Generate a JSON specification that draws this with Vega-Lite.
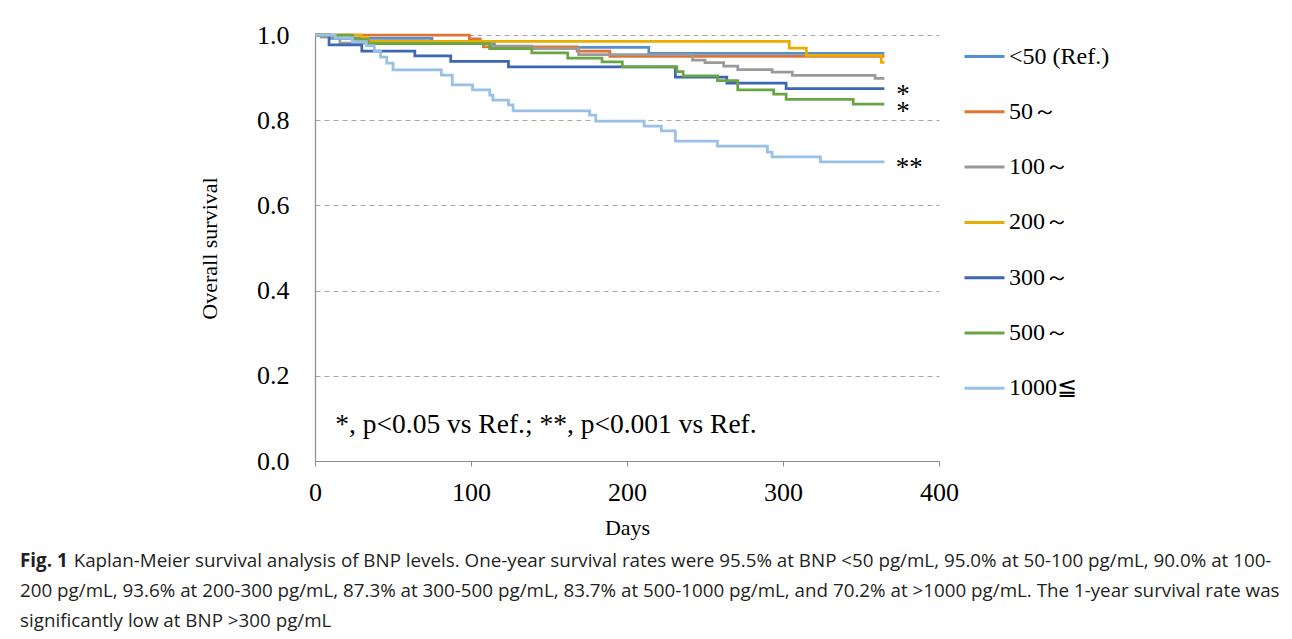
{
  "$schema": "https://vega.github.io/schema/vega-lite/v6.json",
  "width": 624,
  "height": 426,
  "autosize": {"type": "none"},
  "padding": {"left": 315, "top": 35, "right": 353, "bottom": 178},
  "background": "white",
  "config": {
    "view": {"stroke": null},
    "font": "Liberation Serif"
  },
  "title": {
    "text": "Fig. 1",
    "subtitle": [
      "\u200b\u00a0\u00a0\u00a0\u00a0\u00a0\u00a0\u00a0\u00a0\u00a0\u00a0\u00a0Kaplan-Meier survival analysis of BNP levels. One-year survival rates were 95.5% at BNP <50 pg/mL, 95.0% at 50-100 pg/mL, 90.0% at 100-",
      "200 pg/mL, 93.6% at 200-300 pg/mL, 87.3% at 300-500 pg/mL, 83.7% at 500-1000 pg/mL, and 70.2% at >1000 pg/mL. The 1-year survival rate was",
      "significantly low at BNP >300 pg/mL"
    ],
    "orient": "bottom",
    "anchor": "start",
    "frame": "group",
    "dx": -295,
    "offset": 14,
    "font": "Open Sans",
    "fontSize": 18.8,
    "fontWeight": "bold",
    "color": "#231f20",
    "subtitleFont": "Open Sans",
    "subtitleFontSize": 18.8,
    "subtitleFontWeight": "normal",
    "subtitleColor": "#231f20",
    "subtitleLineHeight": 30,
    "subtitlePadding": -18.8
  },
  "encoding": {
    "x": {
      "field": "day",
      "type": "quantitative",
      "scale": {"domain": [0, 400], "nice": false},
      "axis": {
        "values": [0, 100, 200, 300, 400],
        "title": "Days",
        "grid": false,
        "labelFlush": false,
        "labelFont": "Liberation Serif",
        "labelFontSize": 26,
        "labelColor": "#000000",
        "labelPadding": 13,
        "titleFont": "Liberation Serif",
        "titleFontSize": 22,
        "titleFontWeight": "normal",
        "titleColor": "#000000",
        "titlePadding": 12,
        "tickSize": 5,
        "tickColor": "#8c8c8c",
        "domainColor": "#8c8c8c",
        "domainWidth": 1.2
      }
    },
    "y": {
      "field": "surv",
      "type": "quantitative",
      "scale": {"domain": [0, 1], "nice": false},
      "axis": {
        "values": [0, 0.2, 0.4, 0.6, 0.8, 1.0],
        "format": ".1f",
        "title": "Overall survival",
        "grid": true,
        "gridDash": [5, 4],
        "gridColor": "#a6a6a6",
        "gridWidth": 1.2,
        "ticks": false,
        "labelFlush": false,
        "labelFont": "Liberation Serif",
        "labelFontSize": 26,
        "labelColor": "#000000",
        "labelPadding": 26,
        "titleFont": "Liberation Serif",
        "titleFontSize": 22,
        "titleFontWeight": "normal",
        "titleColor": "#000000",
        "titlePadding": 35,
        "domainColor": "#8c8c8c",
        "domainWidth": 1.2
      }
    }
  },
  "layer": [
    {
      "data": {
        "values": [
          {"group": "<50 (Ref.)", "day": 0, "surv": 1.0},
          {"group": "<50 (Ref.)", "day": 10, "surv": 0.992},
          {"group": "<50 (Ref.)", "day": 75, "surv": 0.98},
          {"group": "<50 (Ref.)", "day": 115, "surv": 0.971},
          {"group": "<50 (Ref.)", "day": 214, "surv": 0.957},
          {"group": "<50 (Ref.)", "day": 365, "surv": 0.957},

          {"group": "50～", "day": 0, "surv": 1.0},
          {"group": "50～", "day": 99, "surv": 0.991},
          {"group": "50～", "day": 106, "surv": 0.985},
          {"group": "50～", "day": 108, "surv": 0.972},
          {"group": "50～", "day": 168, "surv": 0.962},
          {"group": "50～", "day": 189, "surv": 0.95},
          {"group": "50～", "day": 365, "surv": 0.95},

          {"group": "100～", "day": 0, "surv": 1.0},
          {"group": "100～", "day": 4, "surv": 0.995},
          {"group": "100～", "day": 16, "surv": 0.981},
          {"group": "100～", "day": 113, "surv": 0.974},
          {"group": "100～", "day": 139, "surv": 0.968},
          {"group": "100～", "day": 169, "surv": 0.954},
          {"group": "100～", "day": 242, "surv": 0.941},
          {"group": "100～", "day": 250, "surv": 0.935},
          {"group": "100～", "day": 262, "surv": 0.927},
          {"group": "100～", "day": 271, "surv": 0.919},
          {"group": "100～", "day": 293, "surv": 0.913},
          {"group": "100～", "day": 306, "surv": 0.905},
          {"group": "100～", "day": 359, "surv": 0.898},
          {"group": "100～", "day": 365, "surv": 0.898},

          {"group": "200～", "day": 0, "surv": 1.0},
          {"group": "200～", "day": 30, "surv": 0.993},
          {"group": "200～", "day": 34, "surv": 0.985},
          {"group": "200～", "day": 304, "surv": 0.969},
          {"group": "200～", "day": 315, "surv": 0.952},
          {"group": "200～", "day": 363, "surv": 0.936},
          {"group": "200～", "day": 365, "surv": 0.936},

          {"group": "300～", "day": 0, "surv": 1.0},
          {"group": "300～", "day": 9, "surv": 0.977},
          {"group": "300～", "day": 30, "surv": 0.962},
          {"group": "300～", "day": 64, "surv": 0.951},
          {"group": "300～", "day": 87, "surv": 0.938},
          {"group": "300～", "day": 124, "surv": 0.925},
          {"group": "300～", "day": 231, "surv": 0.901},
          {"group": "300～", "day": 264, "surv": 0.887},
          {"group": "300～", "day": 302, "surv": 0.874},
          {"group": "300～", "day": 365, "surv": 0.874},

          {"group": "500～", "day": 0, "surv": 1.0},
          {"group": "500～", "day": 24, "surv": 0.99},
          {"group": "500～", "day": 34, "surv": 0.98},
          {"group": "500～", "day": 112, "surv": 0.968},
          {"group": "500～", "day": 139, "surv": 0.958},
          {"group": "500～", "day": 162, "surv": 0.946},
          {"group": "500～", "day": 184, "surv": 0.937},
          {"group": "500～", "day": 197, "surv": 0.925},
          {"group": "500～", "day": 232, "surv": 0.914},
          {"group": "500～", "day": 236, "surv": 0.904},
          {"group": "500～", "day": 258, "surv": 0.893},
          {"group": "500～", "day": 271, "surv": 0.871},
          {"group": "500～", "day": 294, "surv": 0.861},
          {"group": "500～", "day": 302, "surv": 0.849},
          {"group": "500～", "day": 345, "surv": 0.838},
          {"group": "500～", "day": 365, "surv": 0.838},

          {"group": "1000≦", "day": 0, "surv": 1.0},
          {"group": "1000≦", "day": 13, "surv": 0.993},
          {"group": "1000≦", "day": 24, "surv": 0.984},
          {"group": "1000≦", "day": 33, "surv": 0.975},
          {"group": "1000≦", "day": 38, "surv": 0.962},
          {"group": "1000≦", "day": 42, "surv": 0.948},
          {"group": "1000≦", "day": 46, "surv": 0.934},
          {"group": "1000≦", "day": 50, "surv": 0.918},
          {"group": "1000≦", "day": 81, "surv": 0.906},
          {"group": "1000≦", "day": 88, "surv": 0.883},
          {"group": "1000≦", "day": 101, "surv": 0.871},
          {"group": "1000≦", "day": 112, "surv": 0.859},
          {"group": "1000≦", "day": 114, "surv": 0.847},
          {"group": "1000≦", "day": 124, "surv": 0.836},
          {"group": "1000≦", "day": 127, "surv": 0.822},
          {"group": "1000≦", "day": 176, "surv": 0.812},
          {"group": "1000≦", "day": 180, "surv": 0.798},
          {"group": "1000≦", "day": 211, "surv": 0.786},
          {"group": "1000≦", "day": 222, "surv": 0.775},
          {"group": "1000≦", "day": 231, "surv": 0.751},
          {"group": "1000≦", "day": 258, "surv": 0.739},
          {"group": "1000≦", "day": 290, "surv": 0.725},
          {"group": "1000≦", "day": 293, "surv": 0.714},
          {"group": "1000≦", "day": 324, "surv": 0.702},
          {"group": "1000≦", "day": 365, "surv": 0.702}
        ]
      },
      "mark": {"type": "line", "interpolate": "step-after", "strokeWidth": 2.75},
      "encoding": {
        "color": {
          "field": "group",
          "type": "nominal",
          "sort": null,
          "scale": {
            "domain": ["<50 (Ref.)", "50～", "100～", "200～", "300～", "500～", "1000≦"],
            "range": ["#5290cf", "#e07432", "#9a9a9a", "#e9ad00", "#3d66b4", "#69a543", "#99c0e6"]
          },
          "legend": {
            "title": null,
            "orient": "right",
            "offset": 24,
            "padding": 0,
            "symbolType": "stroke",
            "symbolSize": 1600,
            "symbolStrokeWidth": 3,
            "labelFont": "Liberation Serif",
            "labelFontSize": 24,
            "labelColor": "#000000",
            "labelOffset": 3,
            "rowPadding": 21.3,
            "labelLimit": 300
          }
        }
      }
    },
    {
      "data": {
        "values": [
          {"note": "*", "day": 377, "surv": 0.874},
          {"note": "*", "day": 377, "surv": 0.834},
          {"note": "**", "day": 381, "surv": 0.702}
        ]
      },
      "mark": {"type": "text", "font": "Liberation Serif", "fontSize": 27, "align": "center", "baseline": "middle", "dy": 6, "color": "#000000"},
      "encoding": {"text": {"field": "note"}}
    },
    {
      "data": {
        "values": [
          {"note": "*, p<0.05 vs Ref.; **, p<0.001 vs Ref.", "day": 13, "surv": 0.085}
        ]
      },
      "mark": {"type": "text", "font": "Liberation Serif", "fontSize": 27.5, "align": "left", "baseline": "middle", "color": "#000000"},
      "encoding": {"text": {"field": "note"}}
    }
  ]
}
